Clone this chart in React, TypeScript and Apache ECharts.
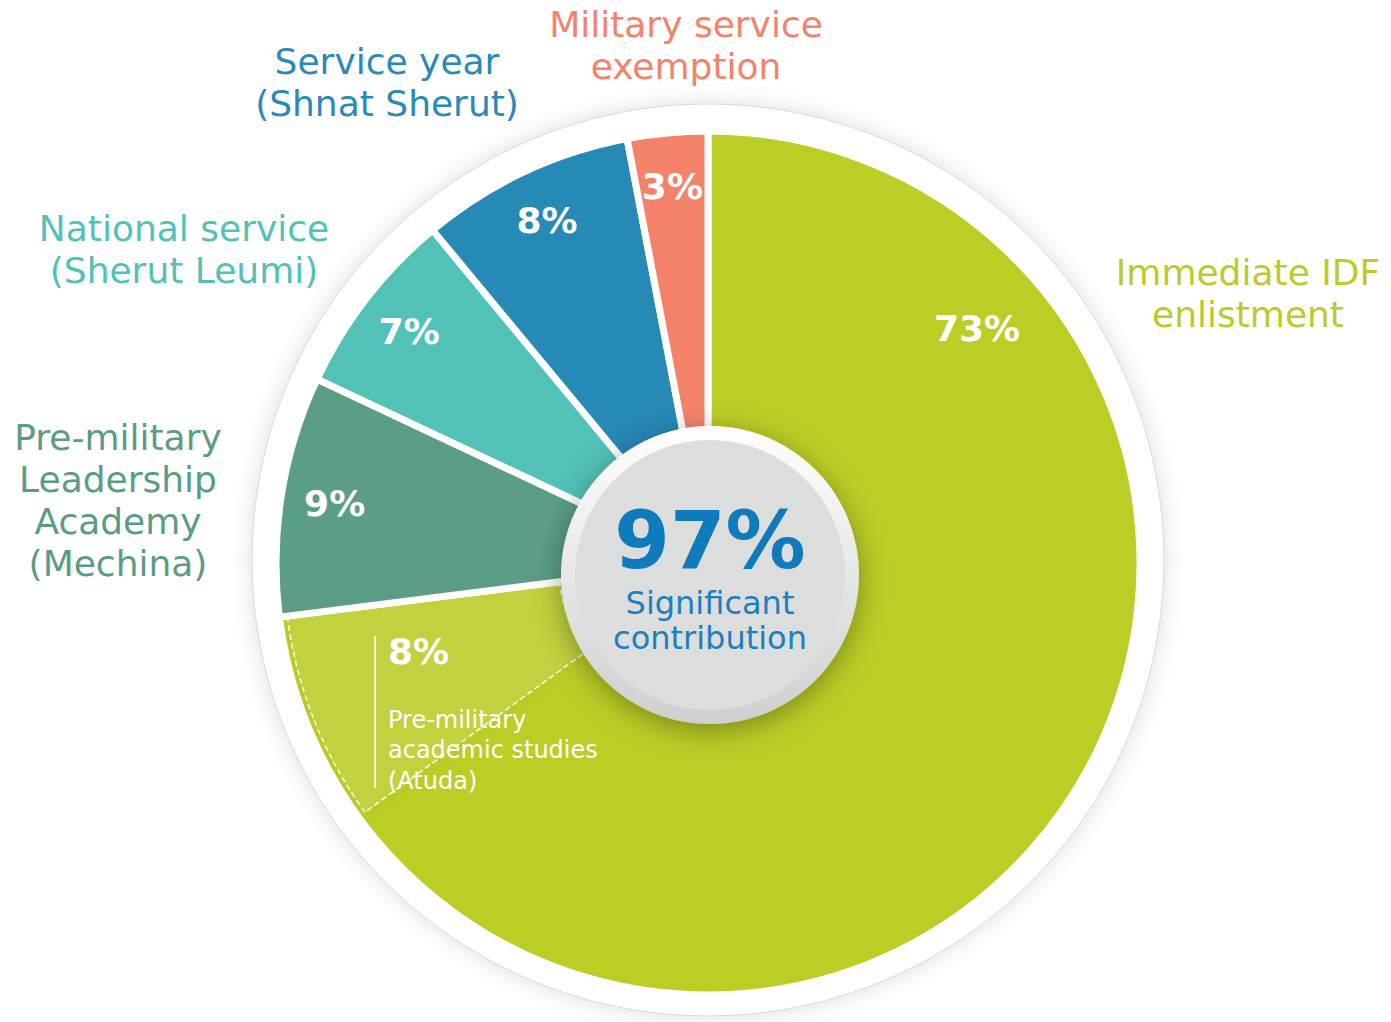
import React, { useEffect, useRef } from "react";
import * as echarts from "echarts";

const categories = [
  "Immediate IDF enlistment",
  "Pre-military Leadership Academy (Mechina)",
  "National service (Sherut Leumi)",
  "Service year (Shnat Sherut)",
  "Military service exemption",
];
const values = [73, 9, 7, 8, 3];
const sliceColors = ["#BCCD26", "#5C9D87", "#52C1B8", "#2789B6", "#F4836A"];
const labelColors = ["#BBCB2A", "#5B9C87", "#52C1B8", "#2A89B8", "#F4836A"];
const labelLines = [
  ["Immediate IDF", "enlistment"],
  ["Pre-military", "Leadership", "Academy", "(Mechina)"],
  ["National service", "(Sherut Leumi)"],
  ["Service year", "(Shnat Sherut)"],
  ["Military service", "exemption"],
];
const subCategory = "Pre-military academic studies (Atuda)";
const subLines = ["Pre-military", "academic studies", "(Atuda)"];
const subValue = 8;
const headlineValue = 97;
const headlineLines = ["Significant", "contribution"];

const FONT = "DejaVu Sans";

export default function App() {
  const ref = useRef<HTMLDivElement>(null);
  useEffect(() => {
    document.body.style.margin = "0";
    if (!ref.current) return;
    const chart = echarts.init(ref.current, null, { renderer: "svg" });
    const cx = 708;
    const cy = 563;
    const labelPos: [number, number][] = [
      [1248, 293],
      [118, 500],
      [184, 249],
      [387, 82],
      [686, 45],
    ];
    const transparent = { color: "rgba(0,0,0,0)", borderWidth: 0 };
    const overlayData = [
      { value: values[0] - subValue, name: "rest", itemStyle: transparent },
      {
        value: subValue,
        name: subCategory,
        itemStyle: {
          color: "rgba(255,255,255,0.10)",
          borderColor: "rgba(255,255,255,0.9)",
          borderWidth: 1.5,
          borderType: "dashed",
          shadowBlur: 10,
          shadowColor: "rgba(0,0,0,0.12)",
        },
      },
      ...values.slice(1).map((v, i) => ({ value: v, name: "o" + i, itemStyle: transparent })),
    ];
    chart.setOption({
      animation: false,
      graphic: [
        {
          type: "circle",
          z: 0,
          shape: { cx, cy: 560, r: 456 },
          style: {
            fill: "#fff",
            stroke: "#D6D6D6",
            lineWidth: 1,
            shadowBlur: 22,
            shadowColor: "rgba(0,0,0,0.13)",
          },
        },
        ...labelLines.map((lines, i) => ({
          type: "text",
          z: 5,
          x: labelPos[i][0],
          y: labelPos[i][1],
          style: {
            text: lines.join("\n"),
            fill: labelColors[i],
            fontSize: 36,
            fontFamily: FONT,
            lineHeight: 42,
            align: "center",
            verticalAlign: "middle",
          },
        })),
        {
          type: "text",
          z: 20,
          x: 977,
          y: 328,
          style: {
            text: values[0] + "%",
            fill: "#fff",
            fontSize: 36,
            fontWeight: "bold",
            fontFamily: FONT,
            align: "center",
            verticalAlign: "middle",
          },
        },
        {
          type: "text",
          z: 20,
          x: 388,
          y: 651,
          style: {
            text: subValue + "%",
            fill: "#fff",
            fontSize: 36,
            fontWeight: "bold",
            fontFamily: FONT,
            align: "left",
            verticalAlign: "middle",
          },
        },
        {
          type: "text",
          z: 20,
          x: 388,
          y: 750,
          style: {
            text: subLines.join("\n"),
            fill: "#fff",
            fontSize: 24,
            fontFamily: FONT,
            lineHeight: 30.5,
            align: "left",
            verticalAlign: "middle",
          },
        },
        {
          type: "line",
          z: 20,
          shape: { x1: 375, y1: 636, x2: 375, y2: 788 },
          style: { stroke: "#fff", lineWidth: 1.5 },
        },
        {
          type: "circle",
          z: 30,
          shape: { cx: 710, cy: 575, r: 149 },
          style: {
            fill: new echarts.graphic.LinearGradient(0, 0, 0, 1, [
              { offset: 0, color: "#FFFFFF" },
              { offset: 1, color: "#CFCFCF" },
            ]),
            shadowBlur: 28,
            shadowOffsetY: 6,
            shadowColor: "rgba(0,0,0,0.35)",
          },
        },
        {
          type: "circle",
          z: 31,
          shape: { cx: 710, cy: 575, r: 135 },
          style: { fill: "#DCDEDD" },
        },
        {
          type: "text",
          z: 32,
          x: 710,
          y: 540,
          style: {
            text: headlineValue + "%",
            fill: "#0E7BBC",
            fontSize: 80,
            fontWeight: "bold",
            fontFamily: FONT,
            align: "center",
            verticalAlign: "middle",
          },
        },
        {
          type: "text",
          z: 32,
          x: 710,
          y: 620,
          style: {
            text: headlineLines.join("\n"),
            fill: "#1A80BF",
            fontSize: 32,
            fontFamily: FONT,
            lineHeight: 35,
            align: "center",
            verticalAlign: "middle",
          },
        },
      ],
      series: [
        {
          type: "pie",
          z: 2,
          center: [cx, cy],
          radius: [0, 432],
          startAngle: 90,
          clockwise: true,
          silent: true,
          label: { show: false },
          labelLine: { show: false },
          itemStyle: { borderColor: "#fff", borderWidth: 7 },
          data: categories.map((c, i) => ({
            name: c,
            value: values[i],
            itemStyle: { color: sliceColors[i] },
          })),
        },
        {
          type: "pie",
          z: 3,
          center: [cx, cy],
          radius: [150, 424],
          startAngle: 90,
          clockwise: true,
          silent: true,
          label: { show: false },
          labelLine: { show: false },
          data: overlayData,
        },
        {
          type: "pie",
          z: 4,
          center: [cx, cy],
          radius: [305, 445],
          startAngle: 90,
          clockwise: true,
          silent: true,
          labelLine: { show: false },
          itemStyle: { color: "rgba(0,0,0,0)", borderWidth: 0 },
          label: {
            show: true,
            position: "inside",
            formatter: "{c}%",
            color: "#fff",
            fontSize: 36,
            fontWeight: "bold",
            fontFamily: FONT,
          },
          data: categories.map((c, i) => ({
            name: c,
            value: values[i],
            label: { show: i > 0 },
          })),
        },
      ],
    });
    return () => chart.dispose();
  }, []);
  return <div ref={ref} style={{ width: 1391, height: 1022 }} />;
}
